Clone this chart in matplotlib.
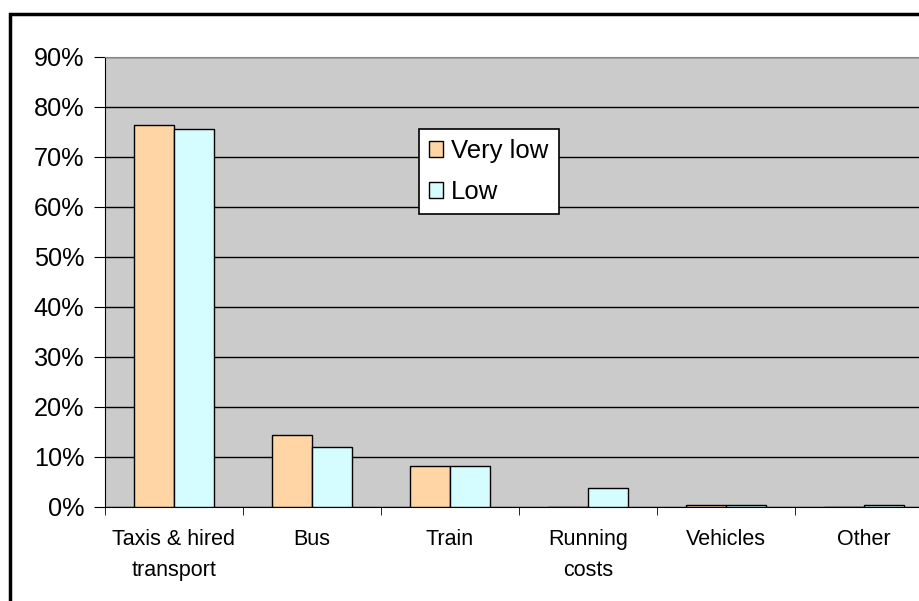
import matplotlib
matplotlib.use('Agg')
import matplotlib.pyplot as plt
import numpy as np
from matplotlib.patches import Rectangle

plt.rcParams['font.family'] = ['Liberation Sans', 'DejaVu Sans']

categories = ['Taxis & hired\ntransport', 'Bus', 'Train', 'Running\ncosts', 'Vehicles', 'Other']
very_low = [76.4, 14.5, 8.3, 0.0, 0.4, 0.0]
low = [75.6, 12.1, 8.3, 3.9, 0.4, 0.5]
series_names = ['Very low', 'Low']
colors = ['#FFD5A6', '#D5FCFF']

W, H = 919, 601
fig = plt.figure(figsize=(W / 100, H / 100), dpi=100)
fig.patch.set_facecolor('white')

# plot area in pixel units (runs off the right edge like the original)
left, right, top, bottom = 105, 933, 57, 507
ax = fig.add_axes([left / W, (H - bottom) / H, (right - left) / W, (bottom - top) / H])
ax.set_facecolor('#CBCBCB')

x = np.arange(len(categories))
bw = 40 / 138
ax.bar(x - bw / 2, very_low, bw, color=colors[0], edgecolor='black', linewidth=1, label=series_names[0], zorder=3)
ax.bar(x + bw / 2, low, bw, color=colors[1], edgecolor='black', linewidth=1, label=series_names[1], zorder=3)

ax.set_xlim(-0.5, len(categories) - 0.5)
ax.set_ylim(0, 90)
ax.set_yticks(np.arange(0, 91, 10))
ax.set_yticklabels([f'{v}%' for v in range(0, 91, 10)], fontsize=18.2)
ax.yaxis.grid(True, color='black', linewidth=1, zorder=1)
ax.set_axisbelow(True)

ax.set_xticks(x)
ax.set_xticklabels(categories, fontsize=15.5, linespacing=1.6)
ax.set_xticks(np.arange(-0.5, len(categories), 1), minor=True)
ax.tick_params(axis='x', which='major', length=0, pad=16)
ax.tick_params(axis='x', which='minor', length=6, direction='out', color='black')
ax.tick_params(axis='y', length=8, direction='out', color='black', pad=7)

ax.spines['right'].set_visible(False)
ax.spines['top'].set_color('#888888')
ax.spines['left'].set_color('black')
ax.spines['bottom'].set_color('black')

leg = ax.legend(loc='upper left', bbox_to_anchor=(419 / W, 1 - 129 / H), bbox_transform=fig.transFigure,
                fontsize=18.5, frameon=True, fancybox=False, shadow=False, handlelength=0.55,
                handleheight=0.55, handletextpad=0.3, borderpad=0.4, labelspacing=0.65,
                borderaxespad=0)
leg.get_frame().set_edgecolor('black')
leg.get_frame().set_linewidth(1.2)
leg.get_frame().set_facecolor('white')
leg.get_frame().set_alpha(1)

# outer chart border, cut off at right and bottom
fig.add_artist(Rectangle((10 / W, -0.1), 1.2, (H - 14) / H + 0.1, transform=fig.transFigure,
                         fill=False, edgecolor='black', linewidth=2.5, clip_on=False))

fig.savefig('out.png', dpi=100)
